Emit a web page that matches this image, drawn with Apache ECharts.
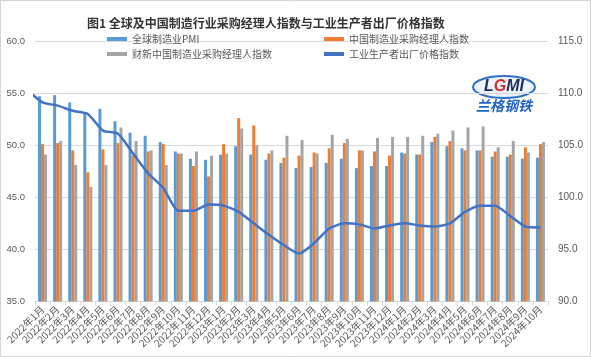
<!DOCTYPE html>
<html><head><meta charset="utf-8">
<script src="https://cdn.jsdelivr.net/npm/echarts@6/dist/echarts.min.js"></script>
<style>html,body{margin:0;padding:0;background:#fff}#c{width:591px;height:357px}</style>
</head><body><div id="c"></div>
<script>
const titleText = '图1 全球及中国制造行业采购经理人指数与工业生产者出厂价格指数';
const categories = [
  '2022年1月','2022年2月','2022年3月','2022年4月','2022年5月','2022年6月','2022年7月','2022年8月','2022年9月','2022年10月','2022年11月','2022年12月',
  '2023年1月','2023年2月','2023年3月','2023年4月','2023年5月','2023年6月','2023年7月','2023年8月','2023年9月','2023年10月','2023年11月','2023年12月',
  '2024年1月','2024年2月','2024年3月','2024年4月','2024年5月','2024年6月','2024年7月','2024年8月','2024年9月','2024年10月'
];
const seriesNames = ['全球制造业PMI','中国制造业采购经理人指数','财新中国制造业采购经理人指数','工业生产者出厂价格指数'];
const globalPMI = [54.7,54.8,54.1,53.0,53.5,52.3,51.2,50.9,50.3,49.4,48.7,48.6,
  49.1,49.9,49.1,48.6,48.3,47.8,47.9,48.3,48.7,47.8,48.0,48.0,
  49.3,49.1,50.3,49.9,49.7,49.5,48.9,48.9,48.7,48.8];
const chinaPMI = [50.1,50.2,49.5,47.4,49.6,50.2,49.0,49.4,50.1,49.2,48.0,47.0,
  50.1,52.6,51.9,49.2,48.8,49.0,49.3,49.7,50.2,49.5,49.4,49.0,
  49.2,49.1,50.8,50.4,49.5,49.5,49.4,49.1,49.8,50.1];
const caixinPMI = [49.1,50.4,48.1,46.0,48.1,51.7,50.4,49.5,48.1,49.2,49.4,49.0,
  49.2,51.6,50.0,49.5,50.9,50.5,49.2,51.0,50.6,49.5,50.7,50.8,
  50.8,50.9,51.1,51.4,51.7,51.8,49.8,50.4,49.3,50.3];
const ppi = [109.1,108.8,108.3,108.0,106.4,106.1,104.2,102.3,100.9,98.7,98.7,99.3,
  99.2,98.6,97.5,96.4,95.4,94.6,95.6,97.0,97.5,97.4,97.0,97.3,
  97.5,97.3,97.2,97.5,98.6,99.2,99.2,98.2,97.2,97.1];
const ppiPrevMonth = 110.3; // 2021年12月, clipped at the left edge
const leftAxisTicks = [35, 40, 45, 50, 55, 60];
const rightAxisTicks = [90, 95, 100, 105, 110, 115];

const lineData = [[-0.5, ppiPrevMonth]].concat(ppi.map((v, i) => [i + 0.5, v]));
const gray = '#595959';
const gridColor = '#D9D9D9';
const cjk = '"Noto Sans CJK SC", sans-serif';
const num = '"Liberation Sans", "Noto Sans", sans-serif';

const chart = echarts.init(document.getElementById('c'));
chart.setOption({
  backgroundColor: '#fff',
  animation: false,
  title: {
    text: titleText, left: 82, top: 12,
    textStyle: { fontFamily: cjk, fontSize: 12, fontWeight: 'bold', color: '#333' }
  },
  legend: [
    { data: [seriesNames[0], seriesNames[2]], orient: 'vertical', left: 102, top: 30,
      icon: 'rect', itemWidth: 20, itemHeight: 4, itemGap: 3, padding: [3, 5],
      textStyle: { fontFamily: cjk, fontSize: 10, color: gray, lineHeight: 12 } },
    { data: [seriesNames[1], seriesNames[3]], orient: 'vertical', left: 319, top: 30,
      icon: 'rect', itemWidth: 20, itemHeight: 4, itemGap: 3, padding: [3, 5],
      textStyle: { fontFamily: cjk, fontSize: 10, color: gray, lineHeight: 12 } }
  ],
  grid: { left: 35, right: 43, top: 41, bottom: 55.5, containLabel: false },
  xAxis: [
    { type: 'category', data: categories,
      axisLine: { lineStyle: { color: gridColor } },
      axisTick: { show: true, length: 4, lineStyle: { color: gridColor } },
      axisLabel: { rotate: 45, interval: 0, margin: 6, fontFamily: cjk, fontSize: 10, color: gray } },
    { type: 'value', min: 0, max: categories.length, show: false }
  ],
  yAxis: [
    { type: 'value', min: leftAxisTicks[0], max: leftAxisTicks[leftAxisTicks.length - 1], interval: 5,
      axisLine: { show: false }, axisTick: { show: false },
      splitLine: { lineStyle: { color: gridColor } },
      axisLabel: { margin: 10, fontFamily: num, fontSize: 9.5, color: gray, formatter: v => v.toFixed(1) } },
    { type: 'value', min: rightAxisTicks[0], max: rightAxisTicks[rightAxisTicks.length - 1], interval: 5,
      axisLine: { show: false }, axisTick: { show: false }, splitLine: { show: false },
      axisLabel: { margin: 10, fontFamily: num, fontSize: 10, color: gray, formatter: v => v.toFixed(1) } }
  ],
  series: [
    { name: seriesNames[0], type: 'bar', data: globalPMI, barWidth: 3, barGap: '0%',
      itemStyle: { color: '#5B9BD5' } },
    { name: seriesNames[1], type: 'bar', data: chinaPMI, barWidth: 3, barGap: '0%',
      itemStyle: { color: '#ED7D31' } },
    { name: seriesNames[2], type: 'bar', data: caixinPMI, barWidth: 3, barGap: '0%',
      itemStyle: { color: '#A5A5A5' } },
    { name: seriesNames[3], type: 'line', xAxisIndex: 1, yAxisIndex: 1, data: lineData,
      showSymbol: false, smooth: 0.2, clip: true,
      lineStyle: { color: '#4472C4', width: 2.5 }, itemStyle: { color: '#4472C4' } }
  ],
  graphic: [
    { type: 'rect', silent: true, z: -10, shape: { x: 0.5, y: 0.5, width: 590, height: 356 },
      style: { fill: 'none', stroke: '#d4d4d4', lineWidth: 1 } },
    { type: 'ellipse', silent: true, shape: { cx: 504, cy: 87, rx: 31, ry: 11 },
      style: { fill: '#eef4fb', stroke: '#2f6fc6', lineWidth: 2 } },
    { type: 'text', silent: true, x: 504, y: 87,
      style: { text: '{a|L}{b|G}{a|MI}', align: 'center', verticalAlign: 'middle',
        rich: { a: { fontFamily: num, fontSize: 16, fontWeight: 'bold', fontStyle: 'italic', fill: '#1c2d5e' },
                b: { fontFamily: num, fontSize: 16, fontWeight: 'bold', fontStyle: 'italic', fill: '#d42a2a' } } } },
    { type: 'text', silent: true, x: 504, y: 106,
      style: { text: '兰格钢铁', align: 'center', verticalAlign: 'middle',
        fontFamily: cjk, fontSize: 14, fontWeight: 'bold', fontStyle: 'italic', fill: '#1f63c6' } }
  ]
});
</script>
</body></html>
